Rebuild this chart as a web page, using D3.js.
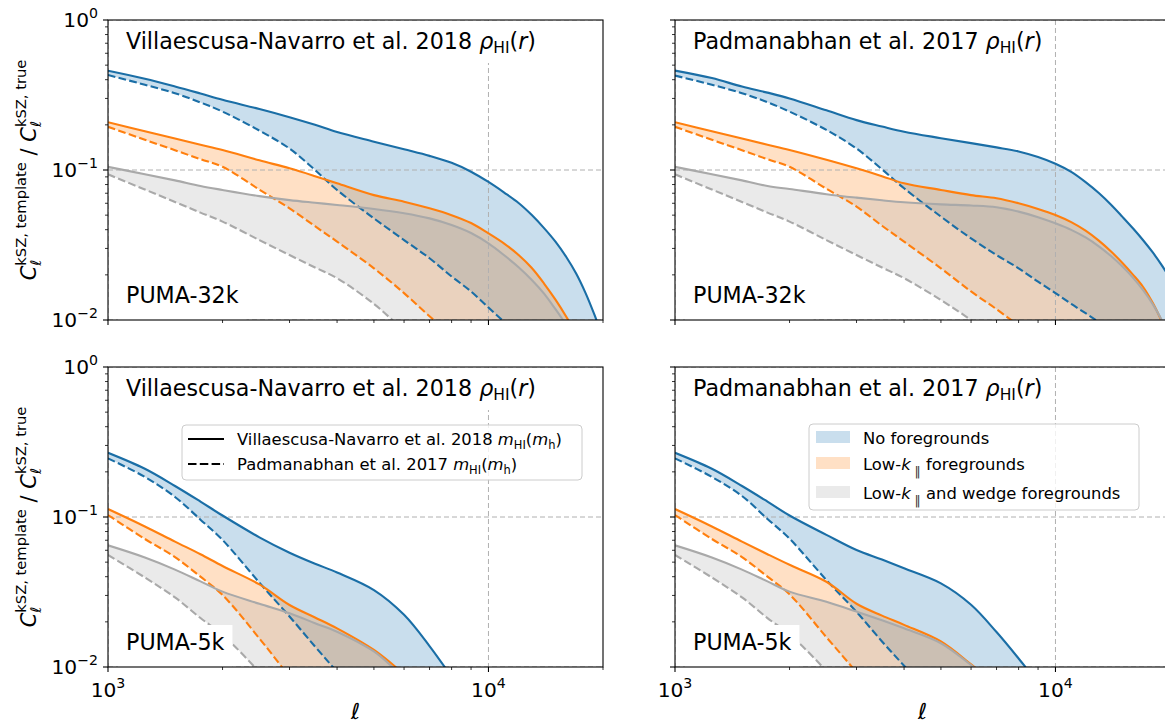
<!DOCTYPE html>
<html><head><meta charset="utf-8">
<script src="https://cdn.jsdelivr.net/npm/d3@7"></script>
<style>
body{margin:0;background:#fff}
svg{display:block;font-family:'DejaVu Sans',sans-serif}
</style>
</head><body>
<svg id="chart" width="1165" height="723"></svg>
<script>
// ---------------- data ----------------
const ell = [1000,1250,1500,1750,2000,2500,3000,3500,4000,5000,6000,7000,8000,9000,10000,11000,12000,13000,14000,15000,16000,17000,18000,19000,20000];

// PUMA-32k, Villaescusa-Navarro rho_HI(r)
const tlBlueSolid   = [0.459,0.406,0.3606,0.3237,0.294,0.255,0.225,0.20,0.179,0.1545,0.1374,0.1242,0.1116,0.0974,0.0832,0.0707,0.0603,0.0501,0.0410,0.0333,0.0264,0.0204,0.0151,0.0108,0.0076];
const tlBlueDashed  = [0.43,0.37,0.325,0.282,0.245,0.183,0.139,0.10,0.0736,0.0476,0.0341,0.0258,0.0195,0.0155,0.0121,0.0097,0.0078,0.0063,0.0052,0.0043,0.0036,0.0031,0.0027,0.0023,0.002];
const tlOrangeSolid = [0.208,0.1814,0.162,0.1475,0.136,0.116,0.1026,0.091,0.0815,0.068,0.0615,0.0555,0.050,0.0443,0.0378,0.0323,0.0271,0.0222,0.0175,0.01367,0.01056,0.0081,0.0063,0.0048,0.0037];
const tlOrangeDashed= [0.194,0.159,0.1355,0.118,0.105,0.074,0.0555,0.0422,0.0333,0.0221,0.0151,0.0106,0.008,0.0061,0.0047,0.0038,0.0031,0.0026,0.0022,0.0019,0.0017,0.0015,0.0013,0.0012,0.0011];
const tlGreySolid   = [0.105,0.0937,0.0853,0.0782,0.0736,0.067,0.063,0.0605,0.0585,0.055,0.0515,0.0476,0.043,0.038,0.0324,0.027,0.0225,0.0185,0.015,0.0118,0.0093,0.0073,0.0057,0.0045,0.0035];
const tlGreyDashed  = [0.0936,0.0741,0.0612,0.052,0.0453,0.0341,0.0271,0.0224,0.019,0.0128,0.0085,0.0062,0.0047,0.0037,0.003,0.0025,0.0021,0.0018,0.0016,0.0014,0.0012,0.0011,0.001,0.0009,0.0008];

// PUMA-32k, Padmanabhan rho_HI(r)
const trBlueSolid   = [0.46,0.41,0.36,0.328,0.30,0.25,0.215,0.195,0.18,0.163,0.151,0.1415,0.133,0.122,0.11,0.0971,0.083,0.0702,0.0587,0.0487,0.0407,0.034,0.0283,0.0233,0.0189];
const trBlueDashed  = [0.426,0.37,0.325,0.283,0.245,0.185,0.139,0.101,0.0755,0.0489,0.035,0.0271,0.0221,0.018,0.0151,0.0128,0.0111,0.0097,0.0086,0.0077,0.0069,0.0062,0.0056,0.0051,0.0047];
const trOrangeSolid = [0.208,0.1814,0.162,0.1475,0.136,0.117,0.1026,0.091,0.0815,0.0736,0.068,0.0648,0.060,0.055,0.0501,0.0449,0.0394,0.0338,0.0286,0.024,0.020,0.0166,0.01307,0.00987,0.0072];
const trOrangeDashed= [0.194,0.159,0.1355,0.118,0.105,0.075,0.057,0.0425,0.0333,0.0221,0.0155,0.0118,0.0092,0.0075,0.0062,0.0053,0.0046,0.004,0.0035,0.0031,0.0028,0.0025,0.0023,0.0021,0.0019];
const trGreySolid   = [0.105,0.0937,0.0853,0.0782,0.0747,0.069,0.0654,0.0628,0.0609,0.059,0.058,0.0565,0.0528,0.0485,0.0441,0.0399,0.0355,0.031,0.0267,0.0227,0.0191,0.0158,0.0128,0.01003,0.00767];
const trGreyDashed  = [0.0936,0.0741,0.0612,0.052,0.0453,0.0341,0.0271,0.0224,0.019,0.0136,0.010,0.0076,0.006,0.0049,0.0041,0.0035,0.003,0.0026,0.0023,0.002,0.0018,0.0016,0.0015,0.0014,0.0013];

// PUMA-5k, Villaescusa-Navarro rho_HI(r)
const blBlueSolid   = [0.268,0.2097,0.161,0.1267,0.1023,0.0732,0.0578,0.0488,0.0427,0.0326,0.0223,0.0138,0.0086,0.0056,0.0038,0.0027,0.002,0.0015,0.0011,0.0008,0.0006,0.0005,0.0004,0.0003,0.0002];
const blBlueDashed  = [0.246,0.185,0.136,0.096,0.0703,0.0365,0.0217,0.0137,0.0093,0.005,0.003,0.002,0.0014,0.001,0.0008,0.0006,0.0005,0.0004,0.0003,0.0003,0.0002,0.0002,0.0002,0.0001,0.0001];
const blOrangeSolid = [0.113,0.0865,0.0685,0.0565,0.0471,0.0355,0.0259,0.0214,0.0181,0.013,0.009,0.0066,0.005,0.004,0.0032,0.0026,0.0022,0.0018,0.0015,0.0013,0.0011,0.001,0.0009,0.0008,0.0007];
const blOrangeDashed= [0.103,0.0714,0.054,0.040,0.0302,0.0155,0.0086,0.0052,0.0035,0.0018,0.0011,0.0008,0.0006,0.0005,0.0004,0.0003,0.0003,0.0002,0.0002,0.0002,0.0002,0.0001,0.0001,0.0001,0.0001];
const blGreySolid   = [0.0647,0.0537,0.0446,0.0372,0.0318,0.0264,0.0228,0.0196,0.0172,0.0127,0.0085,0.0062,0.0047,0.0037,0.003,0.0025,0.0021,0.0018,0.0016,0.0014,0.0012,0.0011,0.001,0.0009,0.0008];
const blGreyDashed  = [0.0558,0.0395,0.0291,0.0212,0.0164,0.0092,0.0052,0.0033,0.0023,0.0013,0.0008,0.0006,0.0005,0.0004,0.0003,0.0003,0.0002,0.0002,0.0002,0.0001,0.0001,0.0001,0.0001,0.0001,0.0001];

// PUMA-5k, Padmanabhan rho_HI(r)
const brBlueSolid   = [0.268,0.2097,0.161,0.1267,0.1023,0.076,0.0602,0.052,0.0455,0.0361,0.026,0.0171,0.0114,0.0078,0.0054,0.0038,0.0027,0.002,0.0015,0.0011,0.0009,0.0007,0.0006,0.0005,0.0004];
const brBlueDashed  = [0.246,0.185,0.138,0.097,0.0717,0.038,0.0233,0.0148,0.0102,0.0055,0.0033,0.0022,0.0015,0.0011,0.0008,0.0006,0.0005,0.0004,0.0003,0.0003,0.0002,0.0002,0.0002,0.0001,0.0001];
const brOrangeSolid = [0.113,0.0865,0.0685,0.0565,0.048,0.037,0.0264,0.022,0.0191,0.0148,0.0104,0.0075,0.0057,0.0045,0.0036,0.003,0.0025,0.0021,0.0018,0.0015,0.0013,0.0012,0.001,0.0009,0.0008];
const brOrangeDashed= [0.103,0.0714,0.054,0.040,0.0305,0.0158,0.0092,0.0056,0.0037,0.0019,0.0011,0.0008,0.0006,0.0005,0.0004,0.0003,0.0003,0.0002,0.0002,0.0002,0.0002,0.0001,0.0001,0.0001,0.0001];
const brGreySolid   = [0.0647,0.0537,0.0446,0.0372,0.0318,0.0272,0.0234,0.0205,0.0181,0.0144,0.0103,0.0075,0.0057,0.0045,0.0036,0.003,0.0025,0.0021,0.0018,0.0016,0.0014,0.0012,0.0011,0.001,0.0009];
const brGreyDashed  = [0.0558,0.0395,0.0291,0.0212,0.0165,0.0094,0.0054,0.0034,0.0024,0.0013,0.0008,0.0006,0.0005,0.0004,0.0003,0.0003,0.0002,0.0002,0.0002,0.0001,0.0001,0.0001,0.0001,0.0001,0.0001];

const xMajor = [1000, 10000];
const xMajorExp = ['3', '4'];
const yMajor = [0.01, 0.1, 1];
const yMajorExp = ['\u22122', '\u22121', '0'];
const legendLines = ['Villaescusa-Navarro et al. 2018', 'Padmanabhan et al. 2017'];
const legendFills = ['No foregrounds', 'Low-k foregrounds', 'Low-k and wedge foregrounds'];

// ---------------- styles / layout ----------------
const COL = {blue:'#1f77b4', orange:'#ff7f0e', grey:'#a9a9a9'};
const BLUE_LINE = '#1a6ea6';
const FILL_OP = 0.24;
const LW = 2.1, DASH = '7.7,3.3';
const PW = 495, PH = 300;
const FS_TICK = 20.2, FS_TEXT = 22.2, FS_LEG = 16.4, FS_YLAB = 21;
const CURVE = d3.curveCatmullRom.alpha(0.5);

const panels = [
  {x0:108, y0:20,  author:'Villaescusa-Navarro et al. 2018 ', puma:'PUMA-32k', xl:false, yl:true,
   blue:[tlBlueSolid,tlBlueDashed], orange:[tlOrangeSolid,tlOrangeDashed], grey:[tlGreySolid,tlGreyDashed]},
  {x0:675, y0:20,  author:'Padmanabhan et al. 2017 ', puma:'PUMA-32k', xl:false, yl:false,
   blue:[trBlueSolid,trBlueDashed], orange:[trOrangeSolid,trOrangeDashed], grey:[trGreySolid,trGreyDashed]},
  {x0:108, y0:367, author:'Villaescusa-Navarro et al. 2018 ', puma:'PUMA-5k', xl:true, yl:true,
   blue:[blBlueSolid,blBlueDashed], orange:[blOrangeSolid,blOrangeDashed], grey:[blGreySolid,blGreyDashed]},
  {x0:675, y0:367, author:'Padmanabhan et al. 2017 ', puma:'PUMA-5k', xl:true, yl:false,
   blue:[brBlueSolid,brBlueDashed], orange:[brOrangeSolid,brOrangeDashed], grey:[brGreySolid,brGreyDashed]}
];

const svg = d3.select('#chart');
const defs = svg.append('defs');

// rich text helper: segments laid out sequentially, with optional stacked sub/sup pairs
function rich(parent, x, y, segs, anchor, rotate){
  const g = parent.append('g');
  const inner = g.append('g');
  let cx = 0, st = 0, sw = 0;
  for (const s of segs){
    const tx = s.stack2 ? st : cx;
    const t = inner.append('text').attr('x', tx).attr('y', s.dy || 0)
      .attr('font-size', s.size).attr('fill', s.fill || '#000')
      .style('white-space','pre').text(s.t);
    if (s.it) t.attr('font-style','italic');
    const w = t.node().getComputedTextLength();
    if (s.stack1){ st = cx; sw = w; }
    else if (s.stack2){ cx = st + Math.max(sw, w); }
    else cx += w;
  }
  const shift = anchor === 'middle' ? -cx/2 : anchor === 'end' ? -cx : 0;
  inner.attr('transform', `translate(${shift},0)`);
  g.attr('transform', `translate(${x},${y})` + (rotate ? ` rotate(${rotate})` : ''));
  return {g, width: cx, shift};
}

panels.forEach((p, i) => {
  const x = d3.scaleLog().domain([1000, 20000]).range([p.x0, p.x0 + PW]);
  const y = d3.scaleLog().domain([0.01, 1]).range([p.y0 + PH, p.y0]);
  const clipId = 'clip' + i;
  defs.append('clipPath').attr('id', clipId).append('rect')
    .attr('x', p.x0).attr('y', p.y0).attr('width', PW).attr('height', PH);

  const g = svg.append('g');
  const plot = g.append('g').attr('clip-path', `url(#${clipId})`);

  const groups = [['blue', p.blue], ['orange', p.orange], ['grey', p.grey]];
  // fills
  groups.forEach(([c, arr]) => {
    const area = d3.area()
      .x((d, k) => x(ell[k]))
      .y0((d, k) => y(arr[1][k]))
      .y1((d, k) => y(arr[0][k]))
      .curve(CURVE);
    plot.append('path').datum(ell).attr('d', area)
      .attr('fill', COL[c]).attr('fill-opacity', FILL_OP).attr('stroke', 'none');
  });
  // grid
  xMajor.forEach(v => plot.append('line').attr('x1', x(v)).attr('x2', x(v)).attr('y1', p.y0).attr('y2', p.y0 + PH)
    .attr('stroke', '#b0b0b0').attr('stroke-width', 1).attr('stroke-dasharray', '5,3'));
  yMajor.forEach(v => plot.append('line').attr('x1', p.x0).attr('x2', p.x0 + PW).attr('y1', y(v)).attr('y2', y(v))
    .attr('stroke', '#b0b0b0').attr('stroke-width', 1).attr('stroke-dasharray', '5,3'));
  // lines
  groups.forEach(([c, arr]) => {
    arr.forEach((vals, j) => {
      const line = d3.line().x((d, k) => x(ell[k])).y((d, k) => y(vals[k])).curve(CURVE);
      plot.append('path').datum(ell).attr('d', line).attr('fill', 'none')
        .attr('stroke', c === 'blue' ? BLUE_LINE : COL[c]).attr('stroke-width', LW)
        .attr('stroke-dasharray', j === 1 ? DASH : null);
    });
  });

  // title with white box
  const tb = g.append('rect').attr('fill', '#fff');
  const title = rich(g, p.x0 + 18, p.y0 + 28.5, [
    {t: p.author, size: FS_TEXT},
    {t: '\u03c1', size: FS_TEXT, it: true},
    {t: 'HI', size: FS_TEXT * 0.7, dy: 4.5},
    {t: '(', size: FS_TEXT},
    {t: 'r', size: FS_TEXT, it: true},
    {t: ')', size: FS_TEXT}
  ], 'start');
  tb.attr('x', p.x0 + 10).attr('y', p.y0 + 1).attr('width', title.width + 16).attr('height', 42);

  // PUMA label with white box
  const pb = g.append('rect').attr('fill', '#fff').attr('clip-path', `url(#${clipId})`);
  const puma = rich(g, p.x0 + 18, p.y0 + 282.5, [{t: p.puma, size: FS_TEXT}], 'start');
  pb.attr('x', p.x0 + 10).attr('y', p.y0 + 258).attr('width', puma.width + 16).attr('height', 50);

  // spines
  g.append('rect').attr('x', p.x0).attr('y', p.y0).attr('width', PW).attr('height', PH)
    .attr('fill', 'none').attr('stroke', '#000').attr('stroke-width', 1.1);

  // x ticks
  const xMinor = [];
  [1000, 10000].forEach(dec => { for (let m = 2; m <= 9; m++) { const v = m * dec; if (v <= 20000) xMinor.push(v); } });
  xMajor.forEach(v => g.append('line').attr('x1', x(v)).attr('x2', x(v)).attr('y1', p.y0 + PH).attr('y2', p.y0 + PH + 5)
    .attr('stroke', '#000').attr('stroke-width', 1.1));
  xMinor.forEach(v => g.append('line').attr('x1', x(v)).attr('x2', x(v)).attr('y1', p.y0 + PH).attr('y2', p.y0 + PH + 3)
    .attr('stroke', '#000').attr('stroke-width', 0.8));
  // y ticks
  const yMinor = [];
  [0.01, 0.1].forEach(dec => { for (let m = 2; m <= 9; m++) yMinor.push(m * dec); });
  yMajor.forEach(v => g.append('line').attr('x1', p.x0 - 5).attr('x2', p.x0).attr('y1', y(v)).attr('y2', y(v))
    .attr('stroke', '#000').attr('stroke-width', 1.1));
  yMinor.forEach(v => g.append('line').attr('x1', p.x0 - 3).attr('x2', p.x0).attr('y1', y(v)).attr('y2', y(v))
    .attr('stroke', '#000').attr('stroke-width', 0.8));

  if (p.xl) {
    xMajor.forEach((v, k) => rich(g, x(v), p.y0 + PH + 30, [
      {t: '10', size: FS_TICK}, {t: xMajorExp[k], size: FS_TICK * 0.7, dy: -9}], 'middle'));
    rich(g, p.x0 + PW / 2, p.y0 + PH + 52, [{t: '\u2113', size: FS_TEXT, it: true}], 'middle');
  }
  if (p.yl) {
    yMajor.forEach((v, k) => rich(g, p.x0 - 10, y(v) + 7, [
      {t: '10', size: FS_TICK}, {t: yMajorExp[k], size: FS_TICK * 0.7, dy: -9}], 'end'));
    const s = FS_YLAB, ss = FS_YLAB * 0.7;
    rich(g, 36, p.y0 + PH / 2, [
      {t: 'C', size: s, it: true},
      {t: '\u2113', size: ss, it: true, dy: 4.5, stack1: true},
      {t: 'kSZ, template', size: ss, dy: -10, stack2: true},
      {t: ' / ', size: s},
      {t: 'C', size: s, it: true},
      {t: '\u2113', size: ss, it: true, dy: 4.5, stack1: true},
      {t: 'kSZ, true', size: ss, dy: -10, stack2: true}
    ], 'middle', -90);
  }

  // legends
  if (i === 2) {
    const lg = g.append('g');
    lg.append('rect').attr('x', 182).attr('y', 425).attr('width', 400).attr('height', 55).attr('rx', 4)
      .attr('fill', '#fff').attr('fill-opacity', 0.8).attr('stroke', '#cccccc').attr('stroke-width', 1);
    legendLines.forEach((lab, k) => {
      const yy = 439 + k * 25;
      lg.append('line').attr('x1', 188).attr('x2', 224).attr('y1', yy).attr('y2', yy)
        .attr('stroke', '#000').attr('stroke-width', LW).attr('stroke-dasharray', k === 1 ? '8.5,3.3' : null);
      rich(lg, 237, yy + 6, [
        {t: lab + ' ', size: FS_LEG},
        {t: 'm', size: FS_LEG, it: true},
        {t: 'HI', size: FS_LEG * 0.7, dy: 3.5},
        {t: '(', size: FS_LEG},
        {t: 'm', size: FS_LEG, it: true},
        {t: 'h', size: FS_LEG * 0.7, dy: 3.5},
        {t: ')', size: FS_LEG}
      ], 'start');
    });
  }
  if (i === 3) {
    const lg = g.append('g');
    lg.append('rect').attr('x', 809).attr('y', 424).attr('width', 330).attr('height', 86).attr('rx', 4)
      .attr('fill', '#fff').attr('fill-opacity', 0.8).attr('stroke', '#cccccc').attr('stroke-width', 1);
    const cols = ['blue', 'orange', 'grey'];
    const cy = [437, 463, 492];
    legendFills.forEach((lab, k) => {
      lg.append('rect').attr('x', 816).attr('y', cy[k] - 6).attr('width', 34).attr('height', 12)
        .attr('fill', COL[cols[k]]).attr('fill-opacity', FILL_OP);
      let segs;
      if (k === 0) segs = [{t: lab, size: FS_LEG}];
      else {
        const rest = lab.replace('Low-k', '');
        segs = [{t: 'Low-', size: FS_LEG}, {t: 'k', size: FS_LEG, it: true},
                {t: ' \u2016', size: FS_LEG * 0.75, dy: 5, fill: '#333'}, {t: rest, size: FS_LEG}];
      }
      rich(lg, 863, cy[k] + 6.5, segs, 'start');
    });
  }
});
</script>
</body></html>
